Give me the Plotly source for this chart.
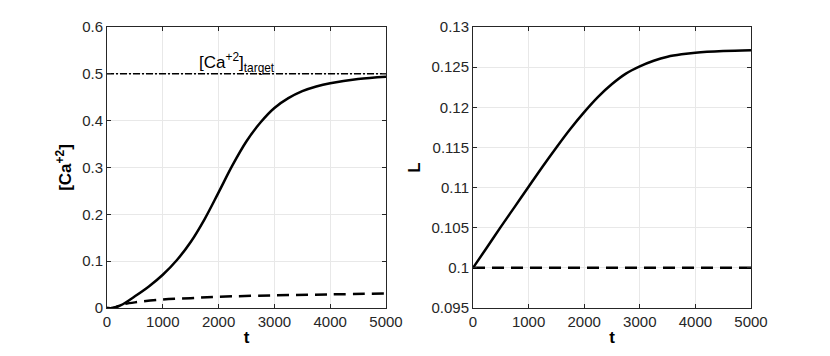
import plotly.graph_objects as go

# ---- data ----
t_ca = [0, 100, 250, 500, 750, 1000, 1250, 1500, 1750, 2000, 2250, 2500, 2750, 3000, 3250, 3500, 3750, 4000, 4500, 5000]
ca_solid = [0.0, 0.0, 0.006, 0.025, 0.046, 0.071, 0.102, 0.141, 0.190, 0.247, 0.305, 0.356, 0.396, 0.427, 0.448, 0.463, 0.473, 0.480, 0.489, 0.494]
t_cad = [0, 100, 200, 300, 500, 1000, 1500, 2000, 3000, 4000, 5000]
ca_dashed = [0.0, 0.0, 0.004, 0.008, 0.012, 0.018, 0.021, 0.024, 0.027, 0.029, 0.031]
ca_target = 0.5

t_L = [0, 250, 500, 750, 1000, 1250, 1500, 1750, 2000, 2250, 2500, 2750, 3000, 3250, 3500, 3750, 4000, 4500, 5000]
L_solid = [0.1000, 0.10253, 0.1051, 0.1076, 0.1101, 0.1126, 0.1150, 0.1173, 0.1194, 0.1213, 0.1229, 0.1242, 0.1251, 0.1258, 0.1263, 0.1266, 0.1268, 0.1270, 0.1271]
t_Ld = [0, 5000]
L_dashed = [0.1, 0.1]

x_ticks = [0, 1000, 2000, 3000, 4000, 5000]
y1_ticks = [0, 0.1, 0.2, 0.3, 0.4, 0.5, 0.6]
y1_labels = ["0", "0.1", "0.2", "0.3", "0.4", "0.5", "0.6"]
y2_ticks = [0.095, 0.1, 0.105, 0.11, 0.115, 0.12, 0.125, 0.13]
y2_labels = ["0.095", "0.1", "0.105", "0.11", "0.115", "0.12", "0.125", "0.13"]

FONT = "Liberation Sans, Arial, sans-serif"
AX = "#262626"
GRID = "#e8e8e8"

# page body has an 8px margin; compensate in the domains
OFF = 8
W, H = 830, 356

fig = go.Figure()
fig.add_trace(go.Scatter(x=t_cad, y=ca_dashed, mode="lines", line=dict(color="black", width=2.5, dash="12px,7px", shape="spline", smoothing=1.0), xaxis="x", yaxis="y"))
fig.add_trace(go.Scatter(x=t_ca, y=ca_solid, mode="lines", line=dict(color="black", width=2.5, shape="spline", smoothing=1.0), xaxis="x", yaxis="y"))
fig.add_trace(go.Scatter(x=[0, 5000], y=[ca_target, ca_target], mode="lines", line=dict(color="black", width=1.5, dash="7px,2px,2px,2px"), xaxis="x", yaxis="y"))
fig.add_trace(go.Scatter(x=t_Ld, y=L_dashed, mode="lines", line=dict(color="black", width=2.5, dash="12px,7px"), xaxis="x2", yaxis="y2"))
fig.add_trace(go.Scatter(x=t_L, y=L_solid, mode="lines", line=dict(color="black", width=2.5, shape="spline", smoothing=1.0), xaxis="x2", yaxis="y2"))

axcommon = dict(showline=True, linecolor=AX, linewidth=1, mirror="ticks", ticks="inside", ticklen=4,
                tickcolor=AX, showgrid=True, gridcolor=GRID, gridwidth=1, zeroline=False, automargin=False,
                tickfont=dict(family=FONT, size=15, color=AX))
titlefont = dict(family=FONT, size=17, color="black")

ydom = [1 - (308 - OFF) / H, 1 - (27 - OFF) / H]

fig.update_layout(
    width=W, height=H, margin=dict(l=0, r=0, t=0, b=0),
    paper_bgcolor="white", plot_bgcolor="white", showlegend=False,
    xaxis=dict(domain=[(107 - OFF) / W, (386 - OFF) / W], range=[0, 5000], tickvals=x_ticks, anchor="y",
               title=dict(text="<b>t</b>", font=titlefont, standoff=2), **axcommon),
    yaxis=dict(domain=ydom, range=[0, 0.6], tickvals=y1_ticks, ticktext=y1_labels, anchor="x",
               title=dict(text="<b>[Ca<sup>+2</sup>]</b>", font=titlefont, standoff=6), **axcommon),
    xaxis2=dict(domain=[(473 - OFF) / W, (751 - OFF) / W], range=[0, 5000], tickvals=x_ticks, anchor="y2",
                title=dict(text="<b>t</b>", font=titlefont, standoff=2), **axcommon),
    yaxis2=dict(domain=ydom, range=[0.095, 0.13], tickvals=y2_ticks, ticktext=y2_labels, anchor="x2",
                title=dict(text="<b>L</b>", font=titlefont, standoff=6), **axcommon),
)

fig.add_annotation(x=2330, y=ca_target, xref="x", yref="y", text="[Ca<sup>+2</sup>]<sub>target</sub>",
                   showarrow=False, xanchor="center", yanchor="bottom", yshift=-3,
                   font=dict(family=FONT, size=17, color="black"))

fig.write_html("out.html")
